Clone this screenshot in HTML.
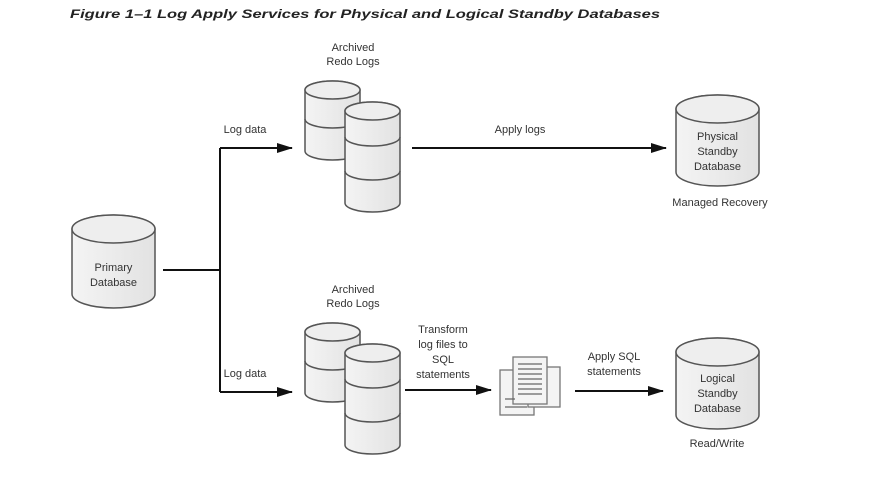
<!DOCTYPE html><html><head><style>body{margin:0;background:#fff}svg{display:block}text{font-family:"Liberation Sans",sans-serif;fill:#333;font-size:11px}</style></head><body>
<svg width="877" height="497" viewBox="0 0 877 497">
<defs>
<linearGradient id="g" x1="0" x2="1"><stop offset="0" stop-color="#f4f4f4"/><stop offset="1" stop-color="#e2e2e2"/></linearGradient>
<marker id="a" markerWidth="16" markerHeight="10" refX="15" refY="5" orient="auto" markerUnits="userSpaceOnUse"><path d="M0,0L16,5L0,10z" fill="#111"/></marker>
</defs>
<text x="70" y="18" textLength="590" lengthAdjust="spacingAndGlyphs" style="font-weight:bold;font-style:italic;font-size:12px;fill:#222">Figure 1–1    Log Apply Services for Physical and Logical Standby Databases</text>
<g stroke="#555" stroke-width="1.5" fill="url(#g)">
<path d="M72,229 A41.5,14 0 0 1 155,229 V294 A41.5,14 0 0 1 72,294Z"/><ellipse cx="113.5" cy="229" rx="41.5" ry="14" fill="#eee"/>
<path d="M676,109 A41.5,14 0 0 1 759,109 V172 A41.5,14 0 0 1 676,172Z"/><ellipse cx="717.5" cy="109" rx="41.5" ry="14" fill="#eee"/>
<path d="M676,352 A41.5,14 0 0 1 759,352 V415 A41.5,14 0 0 1 676,415Z"/><ellipse cx="717.5" cy="352" rx="41.5" ry="14" fill="#eee"/>
</g>
<g stroke="#555" stroke-width="1.5" fill="url(#g)" id="logs">
<path d="M305,90 A27.5,9 0 0 1 360,90 V151 A27.5,9 0 0 1 305,151Z"/><ellipse cx="332.5" cy="90" rx="27.5" ry="9" fill="#eee"/><path d="M305,119 A27.5,9 0 0 0 360,119" fill="none"/>
<path d="M345,111 A27.5,9 0 0 1 400,111 V203 A27.5,9 0 0 1 345,203Z"/><ellipse cx="372.5" cy="111" rx="27.5" ry="9" fill="#eee"/><path d="M345,137 A27.5,9 0 0 0 400,137 M345,171 A27.5,9 0 0 0 400,171" fill="none"/>
</g>
<use href="#logs" transform="translate(0,242)"/>
<g stroke="#111" stroke-width="2" fill="none">
<path d="M163,270H220M220,148V392"/>
<path d="M220,148H292" marker-end="url(#a)"/><path d="M220,392H292" marker-end="url(#a)"/>
<path d="M412,148H666" marker-end="url(#a)"/>
<path d="M405,390H491" marker-end="url(#a)"/>
<path d="M575,391H663" marker-end="url(#a)"/>
</g>
<g stroke="#777" stroke-width="1.3" fill="#f4f4f4">
<rect x="500" y="370" width="34" height="45"/><rect x="528" y="367" width="32" height="40"/><rect x="513" y="357" width="34" height="47"/>
<path d="M518,364h24M518,369h24M518,374h24M518,379h24M518,384h24M518,389h24M518,394h24M505,399h10M505,407h22" stroke="#666"/>
</g>
<g text-anchor="middle">
<text x="353" y="51">Archived</text><text x="353" y="65">Redo Logs</text>
<text x="353" y="293">Archived</text><text x="353" y="307">Redo Logs</text>
<text x="245" y="133">Log data</text><text x="245" y="377">Log data</text>
<text x="520" y="133">Apply logs</text>
<text x="113.5" y="271">Primary</text><text x="113.5" y="286">Database</text>
<text x="717.5" y="140">Physical</text><text x="717.5" y="155">Standby</text><text x="717.5" y="170">Database</text>
<text x="720" y="206">Managed Recovery</text>
<text x="717.5" y="382">Logical</text><text x="717.5" y="397">Standby</text><text x="717.5" y="412">Database</text>
<text x="717" y="447">Read/Write</text>
<text x="443" y="333">Transform</text><text x="443" y="348">log files to</text><text x="443" y="363">SQL</text><text x="443" y="378">statements</text>
<text x="614" y="360">Apply SQL</text><text x="614" y="375">statements</text>
</g>
</svg></body></html>
